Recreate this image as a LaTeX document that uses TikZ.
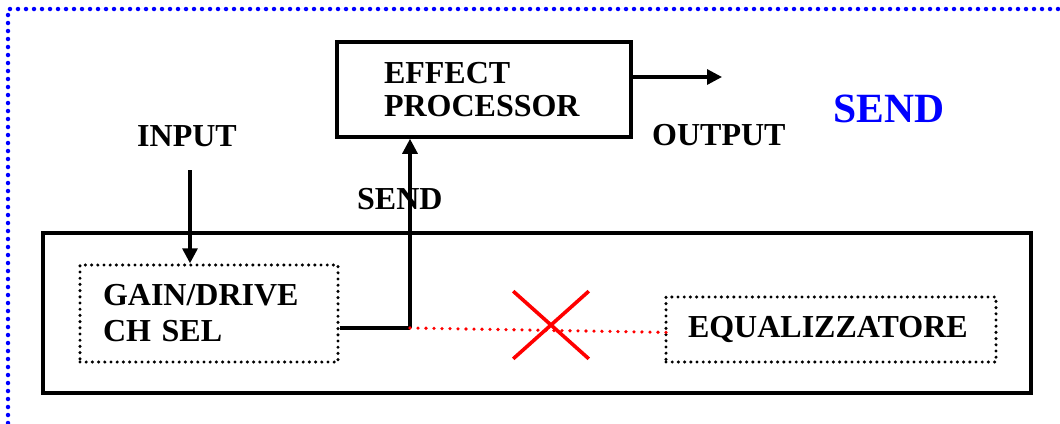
\documentclass[tikz,border=0pt]{standalone}
\usepackage{fontspec}
\setmainfont{Liberation Serif}
\usepackage{tikz}
\usetikzlibrary{arrows.meta,positioning,shapes.misc}
\definecolor{fxblue}{HTML}{0000FF}
\definecolor{fxred}{HTML}{FF0000}

\begin{document}
\begin{tikzpicture}[
  x=1pt, y=-1pt,
  box/.style={draw, line width=3.6pt, inner sep=0pt},
  dotbox/.style={draw, line width=3.4pt, line cap=round, dash pattern=on 0pt off 6.2pt, inner ysep=0pt, align=left},
  lbl/.style={anchor=base west, inner sep=0pt, font=\fontsize{32}{36}\selectfont\bfseries},
  arrow/.style={-{Triangle[length=15pt,width=15pt]}, line width=3.2pt},
  cut/.style={fxred, line width=3.6pt, line cap=round, dash pattern=on 0pt off 8pt}
]
\useasboundingbox (0,0) rectangle (1060,423);
% blue dotted frame (only top and left are visible)
\draw[fxblue, line width=4.5pt, line cap=round, dash pattern=on 0pt off 8pt] (8,423) -- (8,9) -- (1060,9);

\node[box, minimum width=988pt, minimum height=160pt] (mixer) at (537,313) {};
\node[dotbox, text width=212pt, inner xsep=23pt, minimum height=97pt, font=\fontsize{32}{36}\selectfont\bfseries] (gain) at (209,313.5) {GAIN/DRIVE\\CH SEL};
\node[dotbox, text width=286pt, inner xsep=22pt, minimum height=65pt, font=\fontsize{32}{36}\selectfont\bfseries] (eq) at (831,329.5) {EQUALIZZATORE};
\node[box, text width=200pt, inner xsep=47pt, minimum height=95pt, align=left, font=\fontsize{32}{33}\selectfont\bfseries] (fx) at (484,89.5) {EFFECT\\PROCESSOR};

\node[lbl] (inlbl) at (137,146) {INPUT};
\node[lbl] (sendlbl) at (357,209) {SEND};
\node[lbl] (outlbl) at (652,145) {OUTPUT};
\node[lbl, fxblue, font=\fontsize{41.6}{44}\selectfont\bfseries] (title) at (833,122) {SEND};

\coordinate (inp) at (190,170);
\coordinate (sendpt) at (410,328);
\coordinate (out) at (722,77);

\draw[arrow] (inp) -- (inp |- gain.north);
\draw[line width=3.6pt] (gain.east |- sendpt) -- (sendpt);
\draw[arrow] (sendpt) -- (sendpt |- fx.south);
\draw[arrow] (fx.east |- out) -- (out);
\draw[cut] (sendpt) -- ([xshift=9pt,yshift=-3pt]eq.west);
\node[cross out, draw=fxred, line width=3.6pt, minimum width=72pt, minimum height=64pt, inner sep=0pt] (nolink) at (551,325) {};
\end{tikzpicture}
\end{document}
